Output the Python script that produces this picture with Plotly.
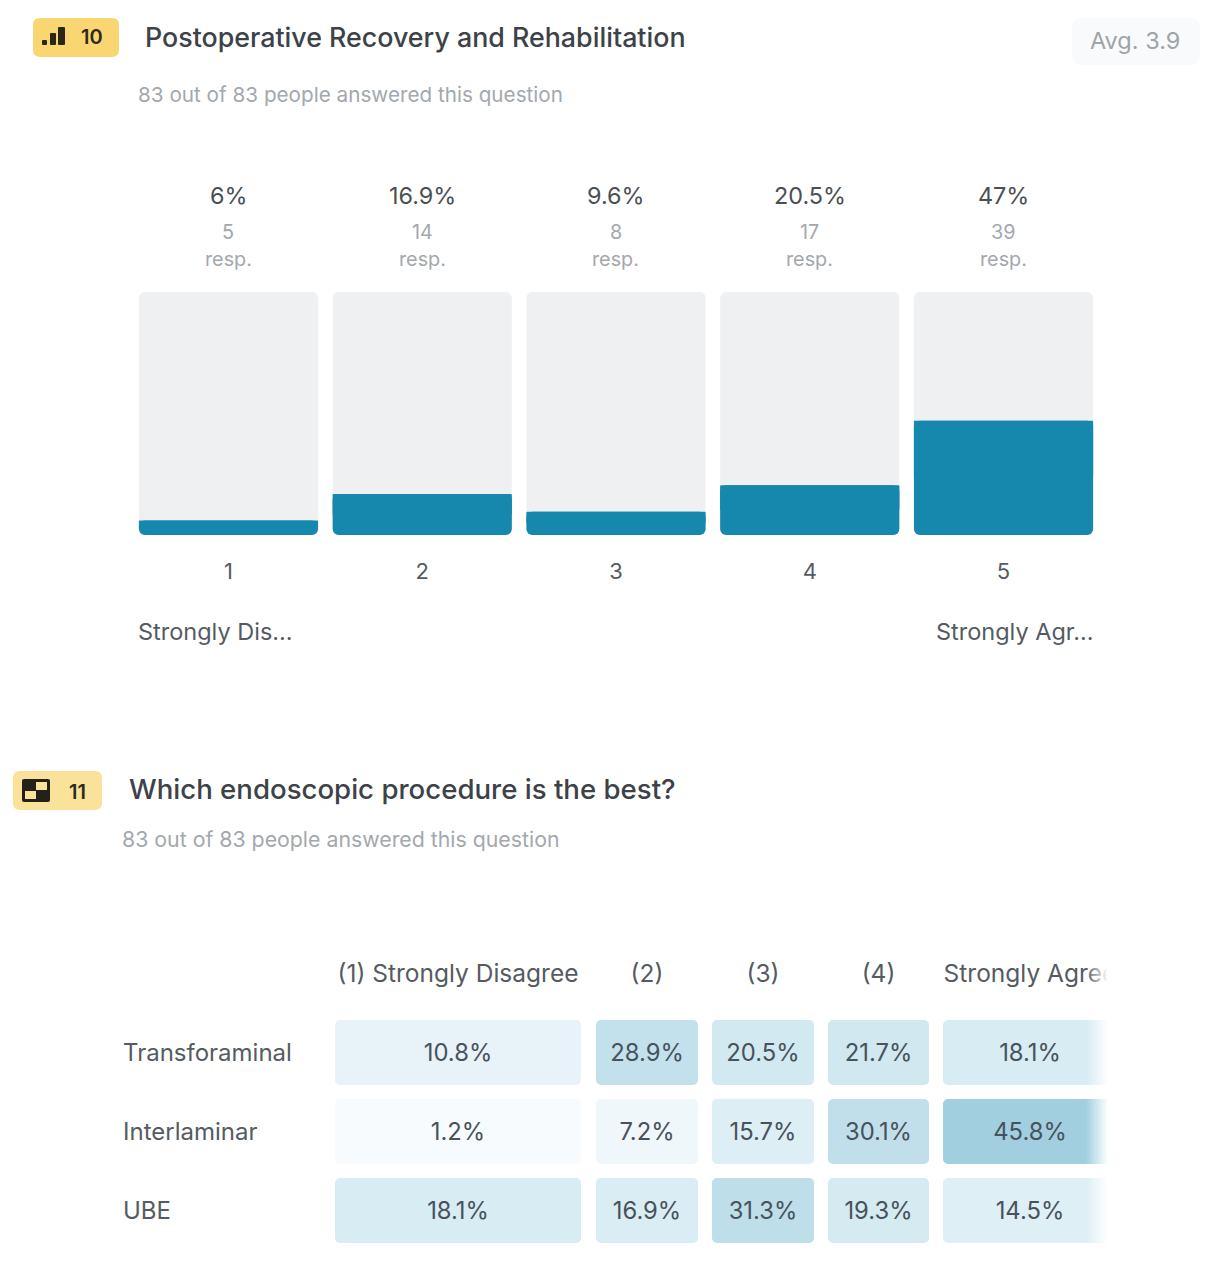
import plotly.graph_objects as go

W, H = 1211, 1280

# --- question 10 ---
scale_labels = ["1", "2", "3", "4", "5"]
pct = [6, 16.9, 9.6, 20.5, 47]
pct_labels = ["6%", "16.9%", "9.6%", "20.5%", "47%"]
resp = [5, 14, 8, 17, 39]

# --- question 11 ---
columns = ["(1) Strongly Disagree", "(2)", "(3)", "(4)", "Strongly Agree"]
rows = ["Transforaminal", "Interlaminar", "UBE"]
transforaminal = [10.8, 28.9, 20.5, 21.7, 18.1]
interlaminar = [1.2, 7.2, 15.7, 30.1, 45.8]
ube = [18.1, 16.9, 31.3, 19.3, 14.5]

# styles / layout
TEAL = "#1688AE"
TRACK = "#EFF0F2"
DARK = "#3C4248"
MID = "#555B62"
GREY = "#A3A8AD"
FONT = "Inter"
col_left = [335, 596, 712, 828, 943]
col_width = [246, 102, 102, 101, 174]
cell_scale = [[0, "#F8FCFD"], [0.15, "#EFF7FA"], [0.22, "#E6F3F8"], [1, "#9ACBDD"]]
HALF = 0.411     # half a table cell, in rows
TEXT_DY = 0.035  # text sits slightly low in the cell


def px(x):
    return x / W


def py(y):
    return 1 - y / H


def rrect(x0, y0, x1, y1, r, color):
    path = (f"M {px(x0+r)} {py(y0)} L {px(x1-r)} {py(y0)} Q {px(x1)} {py(y0)} {px(x1)} {py(y0+r)} "
            f"L {px(x1)} {py(y1-r)} Q {px(x1)} {py(y1)} {px(x1-r)} {py(y1)} "
            f"L {px(x0+r)} {py(y1)} Q {px(x0)} {py(y1)} {px(x0)} {py(y1-r)} "
            f"L {px(x0)} {py(y0+r)} Q {px(x0)} {py(y0)} {px(x0+r)} {py(y0)} Z")
    return dict(type="path", path=path, xref="paper", yref="paper",
                fillcolor=color, line=dict(width=0), layer="below")


def box(x0, y0, x1, y1, color):
    return dict(type="rect", xref="paper", yref="paper", x0=px(x0), x1=px(x1), y0=py(y0), y1=py(y1),
                fillcolor=color, line=dict(width=0), layer="above")


def label(text, x, y, size, color, anchor="left", weight=400):
    return dict(text=text, x=px(x), y=py(y), xref="paper", yref="paper", showarrow=False,
                xanchor=anchor, yanchor="middle", font=dict(family=FONT, size=size, color=color, weight=weight))


fig = go.Figure()

# --- bars of question 10 ---
# a bar with a base gets all four corners rounded; the upper half of the teal bar is squared off again
xs = list(range(1, 6))
fig.add_trace(go.Bar(x=xs, y=[100] * 5, base=[0] * 5, width=0.925,
                     marker=dict(color=TRACK, cornerradius=6, line=dict(width=0))))
fig.add_trace(go.Bar(x=xs, y=pct, base=[0] * 5, width=0.925,
                     marker=dict(color=TEAL, cornerradius=6, line=dict(width=0))))
fig.add_trace(go.Bar(x=xs, y=[p / 2 for p in pct], base=[p / 2 for p in pct], width=0.925,
                     marker=dict(color=TEAL, cornerradius=1, line=dict(width=0))))

# --- table of question 11 ---
centers = [l + w / 2 for l, w in zip(col_left, col_width)]
values = [transforaminal, interlaminar, ube]
for i, row_vals in enumerate(values):
    fig.add_trace(go.Bar(x=centers, y=[2 * HALF] * 5, base=[i - HALF] * 5, width=col_width,
                         xaxis="x2", yaxis="y2",
                         marker=dict(color=row_vals, colorscale=cell_scale, cmin=0, cmax=50,
                                     cornerradius=5, line=dict(width=0))))
    fig.add_trace(go.Scatter(x=centers, y=[i + TEXT_DY] * 5, mode="text", text=[f"{v}%" for v in row_vals],
                             textposition="middle center", xaxis="x2", yaxis="y2",
                             textfont=dict(family=FONT, size=23.8, color="#47525C")))
    fig.add_trace(go.Scatter(x=[123], y=[i + TEXT_DY], mode="text", text=[rows[i]],
                             textposition="middle right", xaxis="x2", yaxis="y2",
                             textfont=dict(family=FONT, size=24, color=MID)))

fig.add_trace(go.Scatter(x=centers, y=[-1 + TEXT_DY] * 5, mode="text", text=columns,
                         textposition="middle center", xaxis="x2", yaxis="y2",
                         textfont=dict(family=FONT, size=24.5, color=MID)))

# white fade over the cut off right edge of the table
fig.add_trace(go.Scatter(x=[1086, 1108, 1108, 1086, 1086], y=[-1.3, -1.3, 2.5, 2.5, -1.3],
                         mode="none", fill="toself", xaxis="x2", yaxis="y2",
                         fillgradient=dict(type="horizontal",
                                           colorscale=[[0, "rgba(255,255,255,0)"], [1, "rgba(255,255,255,1)"]])))

annotations = [
    label("10", 92, 37, 20, "#2E2A1A", "center", 600),
    label("Postoperative Recovery and Rehabilitation", 143, 37, 26.8, DARK, weight=500),
    label("Avg. 3.9", 1135, 41, 23.5, "#A0A4A8", "center"),
    label("83 out of 83 people answered this question", 136, 94, 20.7, GREY),
    label("Strongly Dis...", 136, 631, 23.5, MID),
    label("Strongly Agr...", 1096, 631, 23.5, MID, "right"),
    label("11", 77, 792, 20, "#2E2A1A", "center", 600),
    label("Which endoscopic procedure is the best?", 127, 789, 27.6, DARK, weight=500),
    label("83 out of 83 people answered this question", 120, 839, 21.3, GREY),
]
for x, p, n in zip(xs, pct_labels, resp):
    cx = 131.6 + (x - 0.5) * 193.75
    annotations.append(label(p, cx, 196, 23.4, "#4A4F55", "center"))
    annotations.append(label(str(n), cx, 232, 19.8, GREY, "center"))
    annotations.append(label("resp.", cx, 259, 19.8, GREY, "center"))

shapes = [
    rrect(33, 18, 119, 57, 7, "#F9D672"),
    rrect(1072, 18, 1200, 65, 10, "#F9FAFB"),
    rrect(13, 771, 102, 810, 7, "#FBE29A"),
    # icon of question 10: rising bars
    rrect(42, 40, 47, 45, 1, "#2A2618"),
    rrect(50, 33, 56, 45, 1, "#2A2618"),
    rrect(58, 27, 65, 45, 1, "#2A2618"),
    # icon of question 11: checker
    rrect(22, 779, 50, 802, 2, "#23211A"),
    box(36, 782, 47, 790, "#FBE29A"),
    box(25, 791, 36, 799, "#FBE29A"),
]

fig.update_layout(
    width=W, height=H,
    margin=dict(l=0, r=0, t=0, b=0),
    paper_bgcolor="white", plot_bgcolor="rgba(0,0,0,0)",
    barmode="overlay",
    showlegend=False,
    font=dict(family=FONT),
    xaxis=dict(domain=[px(131.6), px(1100.4)], range=[0.5, 5.5], tickvals=xs, ticktext=scale_labels,
               ticks="outside", ticklen=17, tickcolor="rgba(0,0,0,0)", showline=False, showgrid=False,
               zeroline=False, tickfont=dict(family=FONT, size=22, color=MID)),
    yaxis=dict(domain=[py(535), py(292)], range=[0, 100], visible=False),
    xaxis2=dict(domain=[px(123), px(1107)], range=[123, 1107], visible=False),
    yaxis2=dict(domain=[py(1250), py(950)], range=[2.5, -1.297], visible=False),
    annotations=annotations,
    shapes=shapes,
)

# page margin off so the figure starts in the corner of the window
fig.write_html("out.html", config={"displayModeBar": False}, post_script="document.body.style.margin='0';")
